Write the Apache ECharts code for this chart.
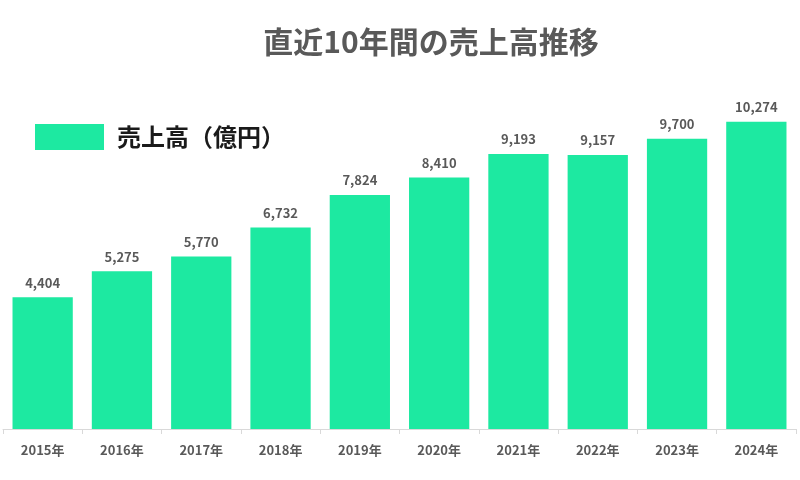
<!DOCTYPE html>
<html><head><meta charset="utf-8">
<script src="https://cdn.jsdelivr.net/npm/echarts@6/dist/echarts.min.js"></script>
<style>html,body{margin:0;padding:0;background:#fff}#c{width:800px;height:480px}</style>
</head><body><div id="c"></div>
<script>
const categories = ["2015年","2016年","2017年","2018年","2019年","2020年","2021年","2022年","2023年","2024年"];
const sales = [4404, 5275, 5770, 6732, 7824, 8410, 9193, 9157, 9700, 10274];
const seriesName = "売上高（億円）";
const titleText = "直近10年間の売上高推移";
const FONT = '"Noto Sans CJK JP", "Noto Sans", sans-serif';
const chart = echarts.init(document.getElementById('c'));
chart.setOption({
  animation: false,
  title: { text: titleText, left: 431, textAlign: 'center', top: 27, padding: 0,
    textStyle: { fontFamily: FONT, fontSize: 30, fontWeight: 'bold', color: '#595959' } },
  legend: { left: 35, top: 124, padding: 0, itemWidth: 69, itemHeight: 26, itemGap: 10,
    icon: 'rect', data: [seriesName],
    textStyle: { fontFamily: FONT, fontSize: 24, fontWeight: 'bold', color: '#1a1a1a', padding: [0,0,0,8] } },
  grid: { left: 3, right: 4, top: 70, bottom: 51, containLabel: false },
  xAxis: { type: 'category', data: categories,
    axisLine: { lineStyle: { color: '#d9d9d9' } },
    axisTick: { show: true, lineStyle: { color: '#d9d9d9' }, length: 5 },
    axisLabel: { fontFamily: FONT, fontSize: 13, fontWeight: 'bold', color: '#595959', margin: 15 } },
  yAxis: { type: 'value', min: 0, max: 12000, show: false, splitLine: { show: false } },
  series: [{ name: seriesName, type: 'bar', data: sales, barCategoryGap: '24%',
    itemStyle: { color: '#1DE9A1' },
    label: { show: true, position: 'top', distance: 8, fontFamily: FONT, fontSize: 13, fontWeight: 'bold', color: '#595959',
      formatter: p => p.value.toLocaleString('en-US') } }]
});
</script></body></html>
